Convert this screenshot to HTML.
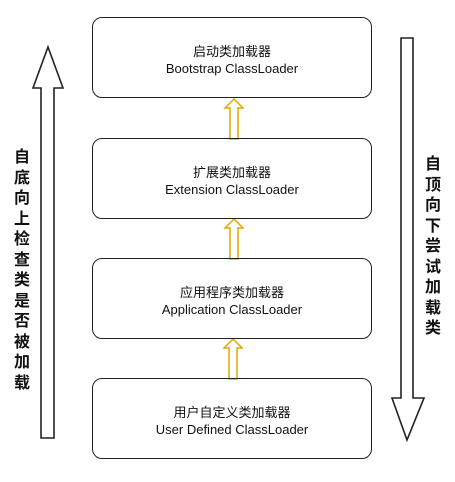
<!DOCTYPE html>
<html><head><meta charset="utf-8"><style>
body{margin:0;width:455px;height:482px;background:#fff;overflow:hidden;position:relative;font-family:"Liberation Sans","Noto Sans CJK SC",sans-serif}
.box{position:absolute;left:92px;width:280px;height:81px;border:1.6px solid #222;border-radius:10px;text-align:center;font-size:13px;color:#111;box-sizing:border-box}
.box .c{margin-top:25px;line-height:17px}
.vt{position:absolute;width:20px;font-size:16px;font-weight:bold;line-height:20.5px;text-align:center;color:#111;font-family:"Noto Sans CJK SC",sans-serif}
svg{position:absolute;left:0;top:0}
</style></head><body>
<svg width="455" height="482">
<polygon points="48,47 63,88 54,88 54,438 41,438 41,88 33,88" fill="#fff" stroke="#222" stroke-width="1.6"/>
<polygon points="401,38 413,38 413,398 424,398 407,440 392,398 401,398" fill="#fff" stroke="#222" stroke-width="1.6"/>
<g fill="#fff" stroke="#e0a800" stroke-width="1.5">
<polygon points="234,99 243,108 238,108 238,139 230,139 230,108 225,108"/>
<polygon points="234,219 243,228 238,228 238,259 230,259 230,228 225,228"/>
<polygon points="233,339 242,348 237,348 237,379 229,379 229,348 224,348"/>
</g>
</svg>
<div class="box" style="top:17px"><div class="c">启动类加载器<br>Bootstrap ClassLoader</div></div>
<div class="box" style="top:138px"><div class="c">扩展类加载器<br>Extension ClassLoader</div></div>
<div class="box" style="top:258px"><div class="c">应用程序类加载器<br>Application ClassLoader</div></div>
<div class="box" style="top:378px"><div class="c">用户自定义类加载器<br>User Defined ClassLoader</div></div>
<div class="vt" style="left:12px;top:145px">自底向上检查类是否被加载</div>
<div class="vt" style="left:423px;top:152px">自顶向下尝试加载类</div>
</body></html>
